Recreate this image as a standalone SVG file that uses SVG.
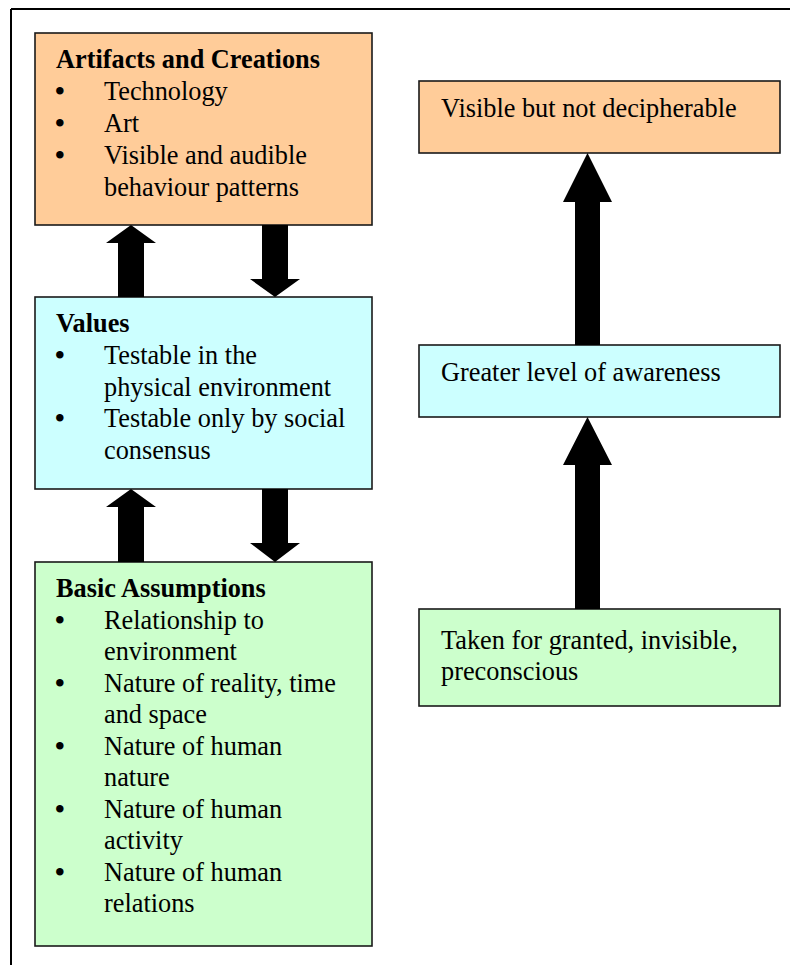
<svg xmlns="http://www.w3.org/2000/svg" width="790" height="965" viewBox="0 0 790 965">
<style>
.box{stroke:#1a1a1a;stroke-width:1.6}
.t{font-family:"Liberation Serif","Times New Roman",serif;font-size:26.3px;fill:#000}
.b{font-weight:bold}
.u{font-size:27.5px;font-weight:bold}
.arr{fill:#000}
</style>
<rect width="790" height="965" fill="#fff"/>
<g id="frame" fill="none" stroke="#000" stroke-width="2">
<path d="M11,9 H792 M11,9 V967"/>
</g>
<g id="artifacts">
<rect class="box" x="35" y="33" width="337" height="192" fill="#FFCC99"/>
<text class="t b" x="56" y="68">Artifacts and Creations</text>
<text class="t" y="100"><tspan class="u" x="55">•</tspan><tspan x="104">Technology</tspan></text>
<text class="t" y="132"><tspan class="u" x="55">•</tspan><tspan x="104">Art</tspan></text>
<text class="t" y="164"><tspan class="u" x="55">•</tspan><tspan x="104">Visible and audible</tspan></text>
<text class="t" x="104" y="196">behaviour patterns</text>
</g>
<g id="values">
<rect class="box" x="35" y="297" width="337" height="192" fill="#CCFFFF"/>
<text class="t b" x="56" y="332">Values</text>
<text class="t" y="364"><tspan class="u" x="55">•</tspan><tspan x="104">Testable in the</tspan></text>
<text class="t" x="104" y="395.5">physical environment</text>
<text class="t" y="427"><tspan class="u" x="55">•</tspan><tspan x="104">Testable only by social</tspan></text>
<text class="t" x="104" y="458.5">consensus</text>
</g>
<g id="assumptions">
<rect class="box" x="35" y="562" width="337" height="384" fill="#CCFFCC"/>
<text class="t b" x="56" y="597">Basic Assumptions</text>
<text class="t" y="628.5"><tspan class="u" x="55">•</tspan><tspan x="104">Relationship to</tspan></text>
<text class="t" x="104" y="660">environment</text>
<text class="t" y="691.5"><tspan class="u" x="55">•</tspan><tspan x="104">Nature of reality, time</tspan></text>
<text class="t" x="104" y="723">and space</text>
<text class="t" y="754.5"><tspan class="u" x="55">•</tspan><tspan x="104">Nature of human</tspan></text>
<text class="t" x="104" y="786">nature</text>
<text class="t" y="817.5"><tspan class="u" x="55">•</tspan><tspan x="104">Nature of human</tspan></text>
<text class="t" x="104" y="849">activity</text>
<text class="t" y="880.5"><tspan class="u" x="55">•</tspan><tspan x="104">Nature of human</tspan></text>
<text class="t" x="104" y="912">relations</text>
</g>
<g id="visible">
<rect class="box" x="419" y="81" width="361" height="72" fill="#FFCC99"/>
<text class="t" x="441" y="117">Visible but not decipherable</text>
</g>
<g id="awareness">
<rect class="box" x="419" y="345" width="361" height="72" fill="#CCFFFF"/>
<text class="t" x="441" y="381">Greater level of awareness</text>
</g>
<g id="taken">
<rect class="box" x="419" y="609" width="361" height="97" fill="#CCFFCC"/>
<text class="t" x="441" y="649">Taken for granted, invisible,</text>
<text class="t" x="441" y="680">preconscious</text>
</g>
<g id="connectors" class="arr">
<polygon points="131,225 156,243 144,243 144,297 118,297 118,243 106,243"/>
<polygon points="262,225 288,225 288,279 300,279 275,297 250,279 262,279"/>
<polygon points="131,489 156,507 144,507 144,562 118,562 118,507 106,507"/>
<polygon points="262,489 288,489 288,543 300,543 275,562 250,543 262,543"/>
<polygon points="587.5,153 612,202 600,202 600,345 575,345 575,202 563,202"/>
<polygon points="587.5,417 612,465 600,465 600,609 575,609 575,465 563,465"/>
</g>
</svg>
